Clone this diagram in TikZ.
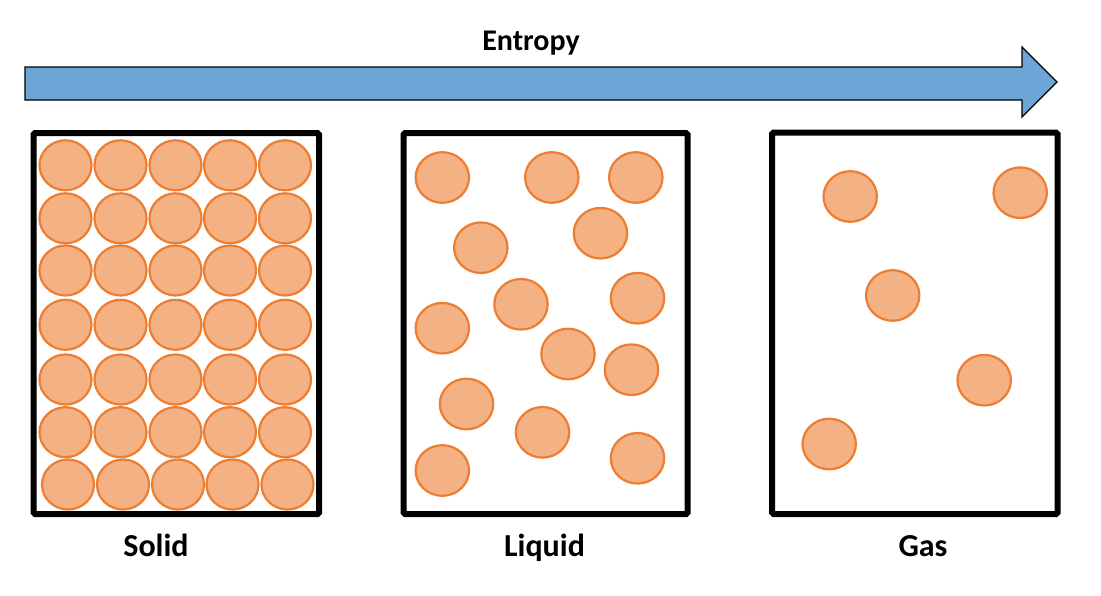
\documentclass[tikz,border=0pt]{standalone}
\usepackage{fontspec}
\setmainfont{Carlito}
\definecolor{arrowblue}{RGB}{108,166,214}
\definecolor{partfill}{RGB}{244,177,131}
\definecolor{partline}{RGB}{237,125,49}
\begin{document}
\begin{tikzpicture}[x=1pt,y=-1pt,
  particle/.style={fill=partfill,draw=partline,line width=2.2pt},
  container/.style={draw=black,line width=6pt,rounded corners=1.5pt},
  lbl/.style={font=\fontsize{32}{36}\selectfont\bfseries,anchor=base},
  ttl/.style={font=\fontsize{30}{34}\selectfont\bfseries,anchor=base},
  bigarrow/.style={fill=arrowblue,draw=black,line width=1.3pt,line join=miter}]
\useasboundingbox (0,0) rectangle (1101,595);
% entropy arrow
\draw[bigarrow] (25,67) -- (1022,67) -- (1022,47) -- (1057,82) -- (1022,117) -- (1022,100) -- (25,100) -- cycle;
\node[ttl] (entropy) at (531,50.5) {Entropy};
% solid
\foreach \r/\yy in {0/165.3,1/218.3,2/270.5,3/324.8,4/379.5,5/432.2}{
  \foreach \c/\xx in {0/65.5,1/120.5,2/175.5,3/230,4/285}{
    \path[particle] (\xx,\yy) ellipse (26 and 25);
  }
}
\foreach \xx in {68,123,178,232.5,287.5}{
  \path[particle] (\xx,484.5) ellipse (26 and 25);
}
\draw[container] (33.7,133) rectangle (319,514);
% liquid
\foreach \xx/\yy in {442.3/177.5,551.8/177.5,635.8/177.5,480.8/247.7,600.5/233.2,521/304.3,637.5/298.2,442.3/328.2,568/354,631.5/369.7,466.5/404,542.5/432.3,442.3/470.5,637.5/458.3}{
  \path[particle] (\xx,\yy) ellipse (26.7 and 25.3);
}
\draw[container] (403.7,133) rectangle (687.5,514);
% gas
\foreach \xx/\yy in {850.2/196.5,1020.2/192.7,892.7/295.5,984.2/380.2,829.2/444}{
  \path[particle] (\xx,\yy) ellipse (26.7 and 25.3);
}
\draw[container] (772,132.5) rectangle (1057.5,514);
% labels
\node[lbl] (solid) at (156,556.5) {Solid};
\node[lbl] (liquid) at (544.5,556.5) {Liquid};
\node[lbl] (gas) at (923,556.5) {Gas};
\end{tikzpicture}
\end{document}
